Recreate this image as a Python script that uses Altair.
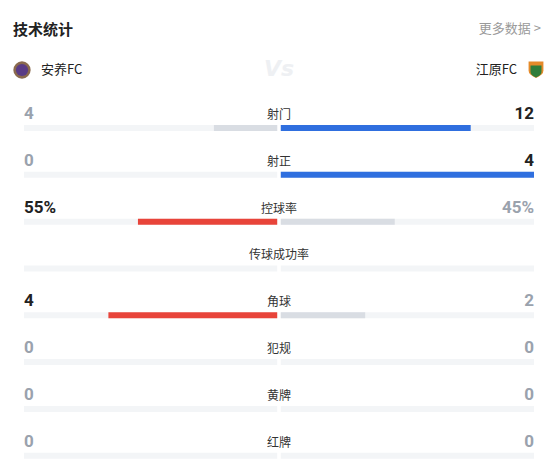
import altair as alt
import pandas as pd

# ---- data ----
categories = ["射门", "射正", "控球率", "传球成功率", "角球", "犯规", "黄牌", "红牌"]
home_values = [4, 0, 55, None, 4, 0, 0, 0]
away_values = [12, 4, 45, None, 2, 0, 0, 0]
home_labels = ["4", "0", "55%", "", "4", "0", "0", "0"]
away_labels = ["12", "4", "45%", "", "2", "0", "0", "0"]
home_team = "安养FC"
away_team = "江原FC"

RED = "#e8443a"
BLUE = "#2f6fdf"
LOSE = "#d9dde3"
TRACK = "#f3f5f7"
DARK = "#222222"
GRAY = "#9aa2ad"
GAP = 0.007

tracks, bars, texts = [], [], []
for i, cat in enumerate(categories):
    h, a = home_values[i], away_values[i]
    tracks.append({"row": i, "x0": -1, "x1": -GAP})
    tracks.append({"row": i, "x0": GAP, "x1": 1})
    hc, ac = GRAY, GRAY
    if h is not None and a is not None and (h + a) > 0:
        hs = h / (h + a)
        as_ = a / (h + a)
        hcol = RED if h > a else LOSE
        acol = BLUE if a > h else LOSE
        if hs > 0:
            bars.append({"row": i, "x0": -GAP, "x1": -(GAP + hs * (1 - GAP)), "c": hcol})
        if as_ > 0:
            bars.append({"row": i, "x0": GAP, "x1": GAP + as_ * (1 - GAP), "c": acol})
        hc = DARK if h > a else GRAY
        ac = DARK if a > h else GRAY
    texts.append({"row": i, "cat": cat, "hl": home_labels[i], "al": away_labels[i],
                  "hc": hc, "ac": ac, "l": -1, "r": 1, "m": 0})

tracks = pd.DataFrame(tracks)
bars = pd.DataFrame(bars)
texts = pd.DataFrame(texts)

xs = alt.Scale(domain=[-1, 1], range=[16, 526])
ys = alt.Scale(domain=[0, 7], range=[120, 447.7])
NUMFONT = "Roboto"
CJK = "Noto Sans CJK SC"

track_layer = alt.Chart(tracks).mark_rule(strokeWidth=6, color=TRACK, strokeCap="butt").encode(
    x=alt.X("x0:Q", scale=xs, axis=None), x2="x1:Q", y=alt.Y("row:Q", scale=ys, axis=None)
)
bar_layer = alt.Chart(bars).mark_rule(strokeWidth=6, strokeCap="butt").encode(
    x=alt.X("x0:Q", scale=xs, axis=None), x2="x1:Q", y=alt.Y("row:Q", scale=ys, axis=None),
    color=alt.Color("c:N", scale=None)
)
cat_layer = alt.Chart(texts).mark_text(font=CJK, fontSize=12, color="#333333", dy=-13,
                                        align="center", baseline="middle").encode(
    x=alt.X("m:Q", scale=xs, axis=None), y=alt.Y("row:Q", scale=ys, axis=None), text="cat:N"
)
home_num = alt.Chart(texts).mark_text(font=NUMFONT, fontSize=17, fontWeight="bold", dy=-14,
                                       align="left", baseline="middle").encode(
    x=alt.X("l:Q", scale=xs, axis=None), y=alt.Y("row:Q", scale=ys, axis=None), text="hl:N",
    color=alt.Color("hc:N", scale=None)
)
away_num = alt.Chart(texts).mark_text(font=NUMFONT, fontSize=17, fontWeight="bold", dy=-14,
                                       align="right", baseline="middle").encode(
    x=alt.X("r:Q", scale=xs, axis=None), y=alt.Y("row:Q", scale=ys, axis=None), text="al:N",
    color=alt.Color("ac:N", scale=None)
)

one = pd.DataFrame({"k": [0]})
title = alt.Chart(one).mark_text(text="技术统计", font=CJK, fontSize=15, fontWeight="bold",
                                 color="#222222", align="left", baseline="middle").encode(
    x=alt.value(5), y=alt.value(22))
more = alt.Chart(one).mark_text(text="更多数据 >", font=CJK, fontSize=13, color="#9a9a9a",
                                align="right", baseline="middle").encode(
    x=alt.value(533), y=alt.value(21))
vs = alt.Chart(one).mark_text(text="Vs", font="DejaVu Sans", fontSize=22, fontWeight="bold",
                              fontStyle="italic", color="#eef0f3", align="center",
                              baseline="middle").encode(x=alt.value(271), y=alt.value(61))
hname = alt.Chart(one).mark_text(text=home_team, font=CJK, fontSize=13, color="#222222",
                                 align="left", baseline="middle").encode(
    x=alt.value(33), y=alt.value(62))
aname = alt.Chart(one).mark_text(text=away_team, font=CJK, fontSize=13, color="#222222",
                                 align="right", baseline="middle").encode(
    x=alt.value(509), y=alt.value(62))
hlogo_o = alt.Chart(one).mark_point(shape="circle", filled=True, size=300, color="#8a6a4e",
                                    opacity=1).encode(x=alt.value(14), y=alt.value(62))
hlogo_i = alt.Chart(one).mark_point(shape="circle", filled=True, size=150, color="#5a3c86",
                                    opacity=1).encode(x=alt.value(14), y=alt.value(62))
shield = "M-1,-1 L1,-1 L1,0.2 Q1,0.8 0,1.2 Q-1,0.8 -1,0.2 Z"
alogo_o = alt.Chart(one).mark_point(shape=shield, filled=True, size=220, color="#e58a2a",
                                    opacity=1).encode(x=alt.value(528), y=alt.value(61))
alogo_i = alt.Chart(one).mark_point(shape=shield, filled=True, size=120, color="#2f7d3a",
                                    opacity=1).encode(x=alt.value(528), y=alt.value(63))
sep = alt.Chart(one).mark_rule(color="#f2f3f5", strokeWidth=3).encode(
    x=alt.value(0), x2=alt.value(543), y=alt.value(461))

chart = alt.layer(
    track_layer, bar_layer, cat_layer, home_num, away_num,
    title, more, vs, hname, aname, hlogo_o, hlogo_i, alogo_o, alogo_i, sep
).properties(
    width=543, height=456, padding=0, autosize=alt.AutoSizeParams(type="none")
).configure_view(stroke=None)

chart.save("out.html", embed_options={"renderer": "svg", "actions": False})
